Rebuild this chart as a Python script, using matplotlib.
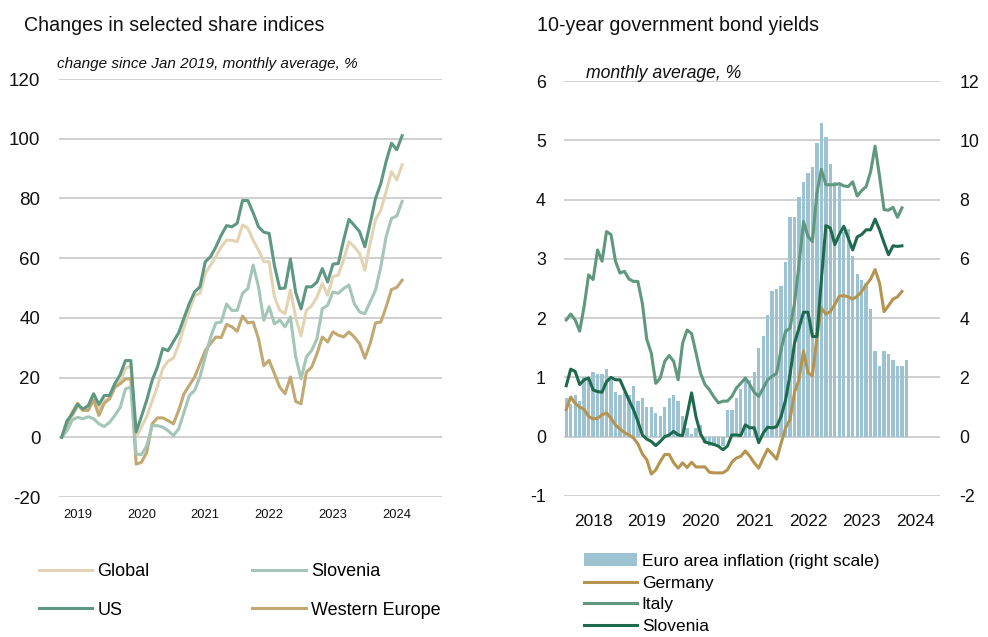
import numpy as np
import matplotlib
matplotlib.use("Agg")
import matplotlib.pyplot as plt
from matplotlib import font_manager
from matplotlib.font_manager import FontProperties


def pick_font(*names):
    for name in names:
        try:
            font_manager.findfont(FontProperties(family=name), fallback_to_default=False)
            return name
        except ValueError:
            continue
    return "DejaVu Sans"


FONT = pick_font("Liberation Sans Narrow", "Liberation Sans")
plt.rcParams["font.family"] = [FONT, "DejaVu Sans"]
plt.rcParams["axes.unicode_minus"] = False

# ---- share indices, monthly from Jan 2019 (change since Jan 2019, %) ----
share_global = [0, 4.5, 7, 10.5, 9, 9.5, 12.5, 9.5, 12.5, 13, 16.5, 19, 23, 24,
                0, 3.5, 7, 12, 17, 23, 25.5, 26.5, 31, 37, 42.5, 47.5, 48.2, 54.9,
                57.7, 60.5, 63.8, 66, 66, 65.5, 71.1, 70, 66, 62.7, 58.8, 58.8, 47,
                42.5, 41.4, 49.3, 40, 34, 42.5, 44, 47, 51.5, 47.6, 53.8, 54.3, 59.4,
                65.5, 63.8, 61.6, 56, 65, 72.8, 76.1, 82.3, 89, 86.2, 91.3]
share_us = [0, 5.5, 7.8, 11, 9.5, 10.6, 14.6, 11, 14, 14, 18, 21, 25.7, 25.7,
            1.8, 7, 12.5, 19, 23.5, 29.7, 29, 32, 35, 40, 44.8, 48.7, 50.4, 58.8,
            60.5, 63.8, 67.7, 70.9, 70.5, 71.7, 79.3, 79.3, 75.2, 70.5, 68.7, 68.3,
            57.5, 49.8, 50, 59.7, 48.5, 43, 50.4, 50.4, 52, 56.5, 52, 58, 58.2, 66,
            73, 71, 68.9, 63.8, 71.7, 80, 85, 92.4, 98.5, 96.3, 101]
share_slovenia = [0, 2.2, 5.8, 6.7, 6.2, 6.9, 6.2, 4.5, 3.6, 5, 7.3, 10, 16.2, 16.8,
                  -5.6, -5.8, -2.8, 3.9, 3.9, 3.4, 2.2, 0.6, 2.8, 8.4, 14, 15.7, 20.2,
                  26.9, 33.6, 38.3, 38.6, 44.6, 42.5, 42.5, 48.2, 49.8, 57.7, 50.4,
                  39.2, 43.7, 38, 39.2, 37, 40.3, 26.9, 19.6, 26.9, 29.1, 33, 43.1,
                  44.2, 48.7, 48.2, 49.8, 51, 44.8, 42, 41.4, 45.4, 49.3, 57.1, 67.2,
                  73.3, 74.1, 79]
share_west_eu = [0, 4.5, 8.4, 11.4, 9, 9, 12.5, 7.3, 11.4, 12.9, 16.8, 17.9, 19.6, 19.6,
                 -9, -8.4, -5, 4.5, 6.5, 6.5, 5.6, 4.5, 9, 14.6, 17.4, 20.2, 24.6, 29.1,
                 31.4, 33.6, 33.4, 37.8, 37, 35.5, 40.6, 38.3, 38.6, 33, 24, 25.8, 21.3,
                 16.8, 14.6, 20.2, 12, 11.2, 21.8, 23.5, 28, 33.6, 31.9, 35.3, 34.2,
                 33.6, 35.3, 33.6, 31.4, 26.5, 31.4, 38.3, 38.6, 43.7, 49.5, 50.2, 52.6]
share_years = ["2019", "2020", "2021", "2022", "2023", "2024"]

# ---- 10-year bond yields, monthly from Jan 2018 (%) ----
yield_germany = [0.46, 0.67, 0.56, 0.5, 0.46, 0.34, 0.3, 0.31, 0.37, 0.4, 0.31, 0.2,
                 0.13, 0.07, 0.03, -0.02, -0.12, -0.29, -0.39, -0.63, -0.56, -0.42, -0.3, -0.3,
                 -0.44, -0.53, -0.44, -0.52, -0.43, -0.51, -0.51, -0.51, -0.6, -0.61, -0.61, -0.61,
                 -0.56, -0.43, -0.36, -0.33, -0.24, -0.33, -0.44, -0.53, -0.36, -0.21, -0.29, -0.38,
                 -0.11, 0.15, 0.29, 0.75, 0.96, 1.45, 1.08, 1.03, 1.68, 2.17, 2.07, 2.11,
                 2.23, 2.37, 2.38, 2.36, 2.32, 2.37, 2.45, 2.56, 2.66, 2.82, 2.59, 2.11,
                 2.21, 2.32, 2.36, 2.45]
yield_italy = [1.97, 2.07, 1.97, 1.78, 2.2, 2.73, 2.65, 3.15, 2.96, 3.46, 3.41, 2.96,
               2.76, 2.79, 2.66, 2.62, 2.62, 2.25, 1.64, 1.41, 0.9, 0.99, 1.27, 1.37,
               1.27, 0.96, 1.58, 1.8, 1.74, 1.41, 1.07, 0.88, 0.79, 0.67, 0.57, 0.6,
               0.6, 0.68, 0.82, 0.9, 0.99, 0.88, 0.75, 0.68, 0.82, 0.96, 1.02, 1.07,
               1.47, 1.78, 1.83, 2.25, 2.9, 3.63, 3.38, 3.29, 4.11, 4.51, 4.25, 4.25,
               4.25, 4.27, 4.23, 4.22, 4.3, 4.06, 4.15, 4.22, 4.47, 4.9, 4.39, 3.83,
               3.82, 3.87, 3.7, 3.86]
yield_slovenia = [0.86, 1.14, 1.1, 0.88, 0.96, 0.99, 0.79, 0.76, 0.75, 0.93, 1.0, 0.96,
                  0.96, 0.79, 0.62, 0.46, 0.26, 0.03, -0.04, -0.08, -0.15, -0.08, 0.0, 0.03,
                  0.09, 0.03, 0.02, 0.37, 0.74, 0.33, 0.05, -0.09, -0.11, -0.13, -0.16, -0.22,
                  -0.16, 0.03, 0.03, 0.02, 0.2, 0.15, 0.15, -0.1, 0.06, 0.16, 0.15, 0.17,
                  0.34, 0.62, 1.05, 1.58, 1.83, 2.1, 2.1, 1.69, 1.69, 2.65, 3.56, 3.52,
                  3.24, 3.41, 3.55, 3.35, 3.15, 3.37, 3.41, 3.49, 3.49, 3.67, 3.49, 3.27,
                  3.07, 3.22, 3.21, 3.22]
ea_inflation = [1.3, 1.1, 1.4, 1.2, 2.0, 2.0, 2.2, 2.1, 2.1, 2.3, 1.9, 1.5,
                1.4, 1.5, 1.4, 1.7, 1.2, 1.3, 1.0, 1.0, 0.8, 0.7, 1.0, 1.3,
                1.4, 1.2, 0.7, 0.3, 0.1, 0.3, 0.4, -0.2, -0.3, -0.3, -0.3, -0.3,
                0.9, 0.9, 1.3, 1.6, 2.0, 1.9, 2.2, 3.0, 3.4, 4.1, 4.9, 5.0,
                5.1, 5.9, 7.4, 7.4, 8.1, 8.6, 8.9, 9.1, 9.9, 10.6, 10.1, 9.2,
                8.6, 8.5, 6.9, 7.0, 6.1, 5.5, 5.3, 5.2, 4.3, 2.9, 2.4, 2.9,
                2.8, 2.6, 2.4, 2.4, 2.6]
bond_years = ["2018", "2019", "2020", "2021", "2022", "2023", "2024"]

C_GLOBAL = "#e2d4b3"
C_US = "#5e9782"
C_SI_SHARE = "#a3c6b8"
C_WEST = "#c2a873"
C_BAR = "#9dc3d2"
C_DE = "#b5944f"
C_IT = "#5f977f"
C_SI = "#1e6a4c"
GRID = "#c2c2c2"
TXT = "#111111"

W, H = 988, 637
fig = plt.figure(figsize=(W / 100, H / 100), dpi=100)


def px_axes(x0, y0, x1, y1):
    return fig.add_axes([x0 / W, 1 - y1 / H, (x1 - x0) / W, (y1 - y0) / H])


def clean(ax):
    for s in ax.spines.values():
        s.set_visible(False)
    ax.tick_params(length=0, colors=TXT)


# ---------------- left: share indices ----------------
ax = px_axes(59, 79, 442, 497)
clean(ax)
m = np.arange(len(share_us))
ax.plot(m, share_global, color=C_GLOBAL, lw=2.2, label="Global", zorder=3)
ax.plot(m, share_west_eu, color=C_WEST, lw=2.2, label="Western Europe", zorder=3)
ax.plot(m, share_slovenia, color=C_SI_SHARE, lw=2.2, label="Slovenia", zorder=3)
ax.plot(m, share_us, color=C_US, lw=2.2, label="US", zorder=4)
ax.set_xlim(-0.5, 71.5)
ax.set_ylim(-20, 120)
ax.set_yticks(np.arange(-20, 121, 20))
ax.set_xticks(np.arange(len(share_years)) * 12 + 3)
ax.set_xticklabels(share_years)
ax.tick_params(axis="y", labelsize=13.5, pad=13.5)
ax.tick_params(axis="x", labelsize=9.3, pad=8.3)
ax.grid(axis="y", color=GRID, lw=1.1)
ax.set_axisbelow(True)

handles = {h.get_label(): h for h in ax.get_lines()}
order = ["Global", "US", "Slovenia", "Western Europe"]
fig.legend([handles[k] for k in order], order, ncols=2, frameon=False,
           loc="upper left", bbox_to_anchor=(39 / W, 1 - 563 / H),
           fontsize=13, handlelength=2.95, handletextpad=0.28,
           columnspacing=5.7, labelspacing=1.2, borderpad=0, borderaxespad=0)

fig.text(24 / W, 1 - 31 / H, "Changes in selected share indices",
         fontsize=14.1, color=TXT, va="baseline")
fig.text(57 / W, 1 - 68 / H, "change since Jan 2019, monthly average, %",
         fontsize=11, style="italic", color=TXT, va="baseline")

# ---------------- right: bond yields ----------------
axb = px_axes(564, 81, 940, 496)
axr = axb.twinx()
clean(axb)
clean(axr)
axb.set_zorder(axr.get_zorder() + 1)
axb.patch.set_visible(False)

n = np.arange(len(ea_inflation))
axr.bar(n, ea_inflation, width=0.75, color=C_BAR, label="Euro area inflation (right scale)")
axr.set_ylim(-2, 12)
axr.set_yticks(np.arange(-2, 13, 2))
axr.grid(axis="y", color=GRID, lw=1.1)
axr.set_axisbelow(True)
axr.tick_params(axis="y", labelsize=12.8, pad=14)

k = np.arange(len(yield_italy))
axb.plot(k, yield_germany, color=C_DE, lw=2.2, label="Germany")
axb.plot(k, yield_italy, color=C_IT, lw=2.2, label="Italy")
axb.plot(k, yield_slovenia, color=C_SI, lw=2.2, label="Slovenia")
axb.set_xlim(-0.5, 83.5)
axb.set_ylim(-1, 6)
axb.set_yticks(np.arange(-1, 7, 1))
axb.set_xticks(np.arange(len(bond_years)) * 12 + 6)
axb.set_xticklabels(bond_years)
axb.tick_params(axis="y", labelsize=12.8, pad=13)
axb.tick_params(axis="x", labelsize=12.5, pad=13)

bh, bl = axr.get_legend_handles_labels()
lh, ll = axb.get_legend_handles_labels()
fig.legend(bh + lh, bl + ll, ncols=1, frameon=False,
           loc="upper left", bbox_to_anchor=(584 / W, 1 - 553.5 / H),
           fontsize=12.5, handlelength=3.05, handletextpad=0.28,
           labelspacing=0.39, borderpad=0, borderaxespad=0)

fig.text(537 / W, 1 - 31 / H, "10-year government bond yields",
         fontsize=14.1, color=TXT, va="baseline")
fig.text(586 / W, 1 - 78 / H, "monthly average, %",
         fontsize=12.7, style="italic", color=TXT, va="baseline")

fig.savefig("out.png", dpi=100)
